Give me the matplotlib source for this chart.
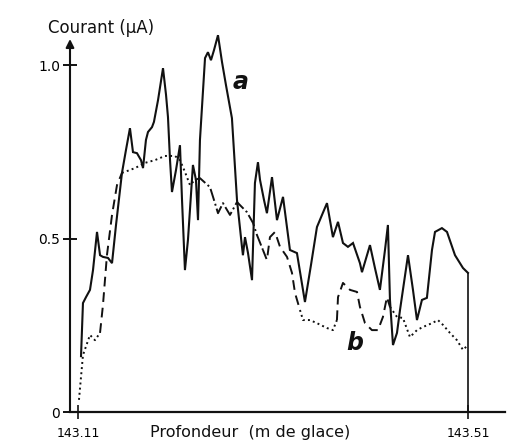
import numpy as np
import matplotlib
matplotlib.use("Agg")
import matplotlib.pyplot as plt

# profondeur (m de glace) et courant (uA), courbe a (trait plein)
depth_a = [143.1131, 143.1151, 143.1182, 143.1223, 143.1254, 143.1295, 143.1326, 143.1356,
           143.1408, 143.1449, 143.1490, 143.1551, 143.1592, 143.1633, 143.1664, 143.1705,
           143.1746, 143.1767, 143.1797, 143.1818, 143.1859, 143.1879, 143.1921, 143.1972,
           143.2003, 143.2023, 143.2044, 143.2064, 143.2105, 143.2146, 143.2167, 143.2197,
           143.2228, 143.2279, 143.2310, 143.2331, 143.2351, 143.2403, 143.2433, 143.2464,
           143.2495, 143.2536, 143.2577, 143.2618, 143.2679, 143.2731, 143.2782, 143.2792,
           143.2813, 143.2844, 143.2885, 143.2915, 143.2946, 143.2967, 143.3008, 143.3038,
           143.3090, 143.3141, 143.3203, 143.3274, 143.3346, 143.3428, 143.3490, 143.3551,
           143.3603, 143.3654, 143.3715, 143.3767, 143.3818, 143.3869, 143.3921, 143.3992,
           143.4013, 143.4095, 143.4146, 143.4197, 143.4249, 143.4279, 143.4300, 143.4331,
           143.4372, 143.4403, 143.4485, 143.4536, 143.4577, 143.4628, 143.4679, 143.4731,
           143.4762, 143.4833, 143.4885, 143.4967, 143.5049, 143.5100]
courant_a = [0.161, 0.314, 0.331, 0.352, 0.409, 0.519, 0.452, 0.447,
             0.444, 0.429, 0.539, 0.689, 0.755, 0.818, 0.749, 0.746,
             0.726, 0.703, 0.784, 0.807, 0.821, 0.836, 0.899, 0.991,
             0.914, 0.850, 0.726, 0.634, 0.697, 0.769, 0.611, 0.409,
             0.496, 0.712, 0.669, 0.553, 0.784, 1.020, 1.037, 1.014,
             1.043, 1.086, 1.009, 0.942, 0.847, 0.611, 0.476, 0.452,
             0.504, 0.458, 0.380, 0.660, 0.720, 0.669, 0.611, 0.573,
             0.677, 0.553, 0.620, 0.467, 0.458, 0.317, 0.424, 0.533,
             0.568, 0.602, 0.504, 0.548, 0.487, 0.476, 0.487, 0.429,
             0.403, 0.481, 0.415, 0.352, 0.467, 0.539, 0.323, 0.193,
             0.228, 0.294, 0.452, 0.352, 0.265, 0.323, 0.329, 0.467,
             0.519, 0.530, 0.519, 0.452, 0.415, 0.401]

# courbe b (tirets / pointilles)
depth_b = [143.1110, 143.1151, 143.1223, 143.1274, 143.1326, 143.1356, 143.1397, 143.1449,
           143.1500, 143.1551, 143.1685, 143.1787, 143.1890, 143.1992, 143.2095, 143.2146,
           143.2197, 143.2249, 143.2300, 143.2351, 143.2454, 143.2505, 143.2536, 143.2587,
           143.2659, 143.2731, 143.2833, 143.2895, 143.2936, 143.2997, 143.3038, 143.3069,
           143.3121, 143.3172, 143.3244, 143.3295, 143.3326, 143.3377, 143.3408, 143.3479,
           143.3551, 143.3654, 143.3715, 143.3756, 143.3767, 143.3818, 143.3890, 143.3962,
           143.3992, 143.4044, 143.4115, 143.4177, 143.4228, 143.4269, 143.4300, 143.4372,
           143.4433, 143.4505, 143.4577, 143.4638, 143.4731, 143.4792, 143.4844, 143.4915,
           143.4987, 143.5049, 143.5100]
courant_b = [0.035, 0.164, 0.222, 0.207, 0.228, 0.308, 0.452, 0.568, 0.654, 0.689,
             0.703, 0.718, 0.726, 0.738, 0.738, 0.726, 0.692, 0.654, 0.669, 0.674,
             0.648, 0.602, 0.573, 0.602, 0.568, 0.605, 0.576, 0.545, 0.510, 0.467,
             0.438, 0.504, 0.519, 0.476, 0.447, 0.401, 0.343, 0.294, 0.265, 0.265,
             0.256, 0.242, 0.236, 0.265, 0.331, 0.372, 0.352, 0.346, 0.303, 0.256,
             0.236, 0.236, 0.274, 0.331, 0.303, 0.274, 0.271, 0.216, 0.236, 0.245,
             0.256, 0.265, 0.251, 0.228, 0.207, 0.179, 0.193]

x_ticks = [143.11, 143.51]
x_labels = ["143.11", "143.51"]
y_ticks = [0, 0.5, 1.0]
y_labels = ["0", "0.5", "1.0"]

ink = "#111111"
W, H = 509, 442
fig = plt.figure(figsize=(W / 100, H / 100), dpi=100)
ax = fig.add_axes([70 / W, 30 / H, 435 / W, 382 / H])

xmin, xmax = 143.1018, 143.548
ax.set_xlim(xmin, xmax)
ax.set_ylim(0, 1.101)

ax.plot(depth_a, courant_a, color=ink, lw=1.5, solid_joinstyle="miter")
ax.vlines(depth_a[-1], 0, courant_a[-1], color=ink, lw=1.2)

# b est trace a la main avec des styles qui changent le long de la courbe
pieces = [(0, 4, ":"), (4, 9, (0, (5, 3))), (9, 18, ":"), (18, 29, "-."),
          (29, 37, (0, (5, 3))), (37, 43, ":"), (43, 54, (0, (5, 3))), (54, 66, ":")]
for i0, i1, ls in pieces:
    ax.plot(depth_b[i0:i1 + 1], courant_b[i0:i1 + 1], color=ink, lw=1.4, linestyle=ls)

for s in ["top", "right", "left"]:
    ax.spines[s].set_visible(False)
ax.spines["bottom"].set_linewidth(1.6)
ax.spines["bottom"].set_color(ink)
ax.annotate("", xy=(xmin, 1.075), xytext=(xmin, 0),
            arrowprops=dict(arrowstyle="-|>", lw=1.5, color=ink, mutation_scale=12,
                            shrinkA=0, shrinkB=0),
            annotation_clip=False)

ax.set_xticks(x_ticks)
ax.set_xticklabels(x_labels, fontsize=9)
ax.set_yticks(y_ticks)
ax.set_yticklabels(y_labels, fontsize=10)
ax.tick_params(axis="y", direction="inout", length=10, width=1.4, color=ink, pad=2)
ax.tick_params(axis="x", direction="inout", length=10, width=1.2, color=ink, pad=6)

fig.text(48 / W, 1 - 28 / H, "Courant (μA)", fontsize=12, color=ink, va="center")
fig.text(250 / W, 1 - 433 / H, "Profondeur  (m de glace)", fontsize=11.5, color=ink,
         ha="center", va="center")
ax.text(143.2690, 0.93, "a", fontsize=17, fontstyle="italic", fontweight="bold", color=ink)
ax.text(143.3850, 0.18, "b", fontsize=17, fontstyle="italic", fontweight="bold", color=ink)

fig.savefig("out.png", dpi=100, facecolor="white")
